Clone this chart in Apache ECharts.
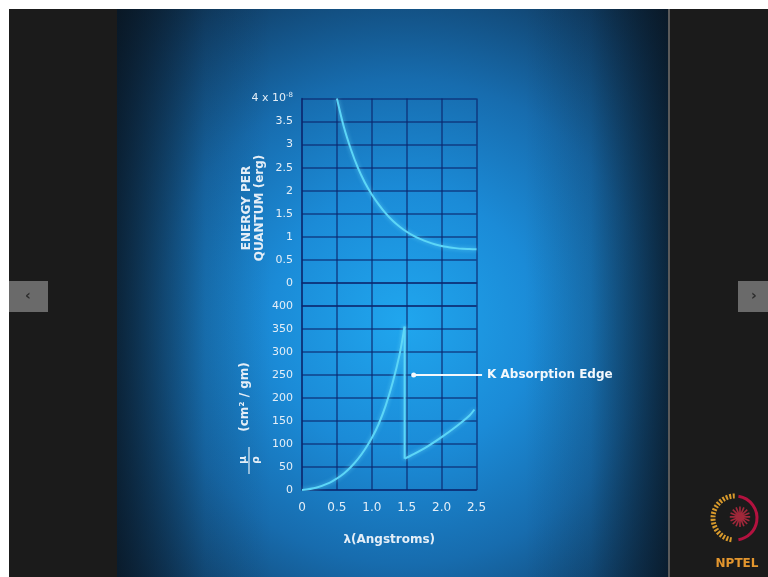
<!DOCTYPE html>
<html>
<head>
<meta charset="utf-8">
<script src="https://cdn.jsdelivr.net/npm/echarts@6/dist/echarts.min.js"></script>
<style>
  html, body { margin: 0; padding: 0; background: #ffffff; }
  #chart { width: 768px; height: 577px; }
</style>
</head>
<body>
<div id="chart"></div>
<script>
// upper panel: energy per quantum (x 10^-8 erg) vs wavelength
var lambdaUpper = [0.5, 0.6, 0.7, 0.8, 0.9, 1.0, 1.1, 1.2, 1.3, 1.4, 1.5, 1.6, 1.7, 1.8, 1.9, 2.0, 2.1, 2.2, 2.3, 2.4, 2.5];
var energyUpper = [4.0, 3.38, 2.9, 2.5, 2.18, 1.92, 1.70, 1.51, 1.35, 1.22, 1.11, 1.02, 0.95, 0.89, 0.84, 0.80, 0.775, 0.755, 0.74, 0.735, 0.73];

// lower panel: mass absorption coefficient, before and after the K edge
var lambdaBeforeEdge = [0, 0.2, 0.4, 0.5, 0.6, 0.7, 0.8, 0.9, 1.0, 1.1, 1.2, 1.3, 1.4, 1.47];
var muBeforeEdge = [0, 5, 16, 25, 36, 50, 67, 88, 113, 144, 184, 234, 296, 355];
var lambdaAfterEdge = [1.47, 1.6, 1.8, 2.0, 2.2, 2.4, 2.47];
var muAfterEdge = [68, 78, 95, 115, 137, 162, 175];
var edgeLambda = 1.47;
var edgeTop = 355;
var edgeBottom = 68;

var annotationPoint = [1.6, 250];
var annotationEnd = [2.58, 250];
var annotationText = 'K Absorption Edge';

function pairs(xs, ys) {
    return xs.map(function (x, i) { return [x, ys[i]]; });
}

var chart = echarts.init(document.getElementById('chart'), null, { renderer: 'canvas' });

var gridColor = 'rgba(12, 38, 110, 0.75)';
var labelColor = '#e4eef7';
var curveColor = '#5cd6f7';
var font = 'DejaVu Sans';

var curveStyle = {
    color: curveColor,
    width: 2,
    shadowColor: 'rgba(120, 230, 255, 0.6)',
    shadowBlur: 4
};

var option = {
    backgroundColor: '#ffffff',
    animation: false,
    grid: [
        { left: 302, width: 174.5, top: 98.5, height: 207.5 },
        { left: 302, width: 174.5, top: 306, height: 184 }
    ],
    xAxis: [
        {
            gridIndex: 0, type: 'value', min: 0, max: 2.5, interval: 0.5,
            axisLine: { show: true, lineStyle: { color: gridColor, width: 1.5 } },
            axisTick: { show: false },
            axisLabel: { show: false },
            splitLine: { show: true, lineStyle: { color: gridColor, width: 1.5 } }
        },
        {
            gridIndex: 1, type: 'value', min: 0, max: 2.5, interval: 0.5,
            axisLine: { show: true, lineStyle: { color: gridColor, width: 1.5 } },
            axisTick: { show: false },
            axisLabel: {
                color: labelColor, fontFamily: font, fontSize: 12, margin: 12,
                formatter: function (v) { return v === 0 ? '0' : v.toFixed(1); }
            },
            splitLine: { show: true, lineStyle: { color: gridColor, width: 1.5 } },
            name: 'λ(Angstroms)',
            nameLocation: 'middle',
            nameGap: 44,
            nameTextStyle: { color: labelColor, fontFamily: font, fontSize: 12, fontWeight: 'bold' }
        }
    ],
    yAxis: [
        {
            gridIndex: 0, type: 'value', min: -0.5, max: 4, interval: 0.5,
            axisLine: { show: true, lineStyle: { color: gridColor, width: 1.5 } },
            axisTick: { show: false },
            axisLabel: {
                color: labelColor, fontFamily: font, fontSize: 11, margin: 9,
                formatter: function (v) {
                    if (v < 0) return '';
                    if (v === 4) return '4 x 10{sup|-8}';
                    return String(v);
                },
                rich: {
                    sup: { fontSize: 7, color: labelColor, fontFamily: font, padding: [0, 0, 7, 0] }
                }
            },
            splitLine: { show: true, lineStyle: { color: gridColor, width: 1.5 } }
        },
        {
            gridIndex: 1, type: 'value', min: 0, max: 400, interval: 50,
            axisLine: { show: true, lineStyle: { color: gridColor, width: 1.5 } },
            axisTick: { show: false },
            axisLabel: { color: labelColor, fontFamily: font, fontSize: 11, margin: 9 },
            splitLine: { show: true, lineStyle: { color: gridColor, width: 1.5 } }
        }
    ],
    series: [
        {
            type: 'line', xAxisIndex: 0, yAxisIndex: 0,
            data: pairs(lambdaUpper, energyUpper),
            smooth: 0.3, showSymbol: false, lineStyle: curveStyle, z: 5
        },
        {
            type: 'line', xAxisIndex: 1, yAxisIndex: 1,
            data: pairs(lambdaBeforeEdge, muBeforeEdge),
            smooth: 0.3, showSymbol: false, lineStyle: curveStyle, z: 5
        },
        {
            type: 'line', xAxisIndex: 1, yAxisIndex: 1,
            data: [[edgeLambda, edgeTop], [edgeLambda, edgeBottom]],
            showSymbol: false, lineStyle: curveStyle, z: 5
        },
        {
            type: 'line', xAxisIndex: 1, yAxisIndex: 1,
            data: pairs(lambdaAfterEdge, muAfterEdge),
            smooth: 0.3, showSymbol: false, lineStyle: curveStyle, z: 5
        }
    ]
};

chart.setOption(option);

// slide frame, axis titles, annotation and logo
var p0 = chart.convertToPixel({ gridIndex: 1 }, annotationPoint);
var p1 = chart.convertToPixel({ gridIndex: 1 }, annotationEnd);

var graphics = [
    // dark player frame
    { type: 'rect', z: -100, shape: { x: 9, y: 9, width: 759, height: 568 }, style: { fill: '#1b1b1b' } },
    // blue slide with vignette
    {
        type: 'rect', z: -99, shape: { x: 117, y: 9, width: 551, height: 568 },
        style: {
            fill: {
                type: 'radial', x: 0.52, y: 0.55, r: 0.8,
                colorStops: [
                    { offset: 0, color: '#20a6ee' },
                    { offset: 0.3, color: '#1b8bd7' },
                    { offset: 0.55, color: '#176cae' },
                    { offset: 0.8, color: '#11436e' },
                    { offset: 1, color: '#0c2236' }
                ]
            }
        }
    },
    {
        type: 'rect', z: -98, shape: { x: 117, y: 9, width: 551, height: 568 },
        style: {
            fill: {
                type: 'linear', x: 0, y: 0, x2: 1, y2: 0,
                colorStops: [
                    { offset: 0, color: 'rgba(8,18,28,0.75)' },
                    { offset: 0.16, color: 'rgba(8,18,28,0.12)' },
                    { offset: 0.28, color: 'rgba(8,18,28,0)' },
                    { offset: 0.74, color: 'rgba(8,18,28,0)' },
                    { offset: 0.86, color: 'rgba(8,18,28,0.15)' },
                    { offset: 1, color: 'rgba(8,18,28,0.75)' }
                ]
            }
        }
    },
    { type: 'rect', z: -97, shape: { x: 668, y: 9, width: 2, height: 568 }, style: { fill: '#5a5a5a' } },
    // navigation buttons
    { type: 'rect', z: -96, shape: { x: 9, y: 281, width: 39, height: 31 }, style: { fill: '#6a6a6a' } },
    { type: 'text', z: -95, x: 28, y: 296, style: { text: '‹', fill: '#2c2c2c', font: 'bold 14px DejaVu Sans', align: 'center', verticalAlign: 'middle' } },
    { type: 'rect', z: -96, shape: { x: 738, y: 281, width: 30, height: 31 }, style: { fill: '#6a6a6a' } },
    { type: 'text', z: -95, x: 754, y: 296, style: { text: '›', fill: '#2c2c2c', font: 'bold 14px DejaVu Sans', align: 'center', verticalAlign: 'middle' } },
    // upper y axis title
    {
        type: 'text', x: 253, y: 208, rotation: Math.PI / 2,
        style: {
            text: 'ENERGY PER\nQUANTUM (erg)', fill: labelColor,
            font: 'bold 12px DejaVu Sans', align: 'center', verticalAlign: 'middle', lineHeight: 13
        }
    },
    // lower y axis title: mu / rho (cm2 / gm)
    {
        type: 'text', x: 245, y: 397, rotation: Math.PI / 2,
        style: { text: '(cm² / gm)', fill: labelColor, font: 'bold 12px DejaVu Sans', align: 'center', verticalAlign: 'middle' }
    },
    {
        type: 'text', x: 243, y: 460, rotation: Math.PI / 2,
        style: { text: 'μ', fill: labelColor, font: 'bold 11px DejaVu Sans', align: 'center', verticalAlign: 'middle' }
    },
    { type: 'line', shape: { x1: 249, y1: 447, x2: 249, y2: 474 }, style: { stroke: labelColor, lineWidth: 1.2 } },
    {
        type: 'text', x: 256, y: 460, rotation: Math.PI / 2,
        style: { text: 'ρ', fill: labelColor, font: 'bold 11px DejaVu Sans', align: 'center', verticalAlign: 'middle' }
    },
    // K absorption edge annotation
    { type: 'circle', z: 10, shape: { cx: p0[0], cy: p0[1], r: 2.5 }, style: { fill: '#f4f8fc' } },
    { type: 'line', z: 10, shape: { x1: p0[0], y1: p0[1], x2: p1[0], y2: p1[1] }, style: { stroke: '#f4f8fc', lineWidth: 2 } },
    {
        type: 'text', z: 10, x: p1[0] + 5, y: p1[1],
        style: { text: annotationText, fill: '#f4f8fc', font: 'bold 12px DejaVu Sans', verticalAlign: 'middle' }
    },
    // NPTEL logo
    { type: 'arc', shape: { cx: 735, cy: 518, r: 22, startAngle: Math.PI * 0.55, endAngle: Math.PI * 1.5 }, style: { stroke: '#d89a2c', lineWidth: 5, lineDash: [2, 1.5], fill: null } },
    { type: 'arc', shape: { cx: 735, cy: 518, r: 22, startAngle: Math.PI * 1.55, endAngle: Math.PI * 0.45 }, style: { stroke: '#b3123f', lineWidth: 3, fill: null } },
    {
        type: 'text', x: 740, y: 520,
        style: { text: '✺', fill: '#a0283a', font: '28px DejaVu Sans', align: 'center', verticalAlign: 'middle' }
    },
    {
        type: 'text', x: 737, y: 564,
        style: { text: 'NPTEL', fill: '#e3962e', font: 'bold 12px DejaVu Sans', align: 'center', verticalAlign: 'middle' }
    }
];

chart.setOption({ graphic: graphics });
</script>
</body>
</html>
